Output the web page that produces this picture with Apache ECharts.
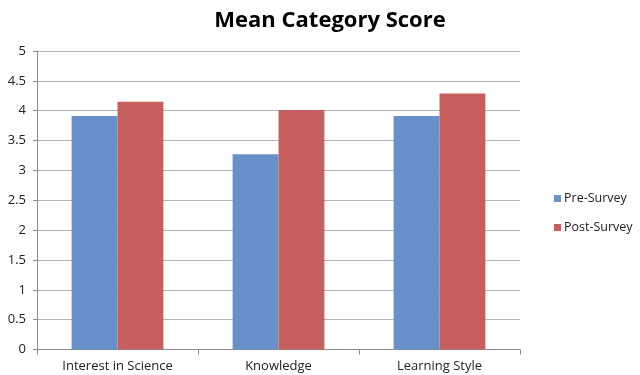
<!DOCTYPE html>
<html><head><meta charset="utf-8">
<script src="https://cdn.jsdelivr.net/npm/echarts@6/dist/echarts.min.js"></script>
<style>html,body{margin:0;padding:0;background:#fff}#c{width:640px;height:375px}</style>
</head><body><div id="c"></div>
<script>
const categories = ["Interest in Science", "Knowledge", "Learning Style"];
const preSurvey = [3.91, 3.27, 3.91];
const postSurvey = [4.15, 4.01, 4.29];
const seriesNames = ["Pre-Survey", "Post-Survey"];

const chart = echarts.init(document.getElementById('c'), null, {renderer: 'canvas'});
const font = "'Open Sans', 'DejaVu Sans', sans-serif";
chart.setOption({
  animation: false,
  backgroundColor: '#fff',
  title: {
    text: 'Mean Category Score', left: 325, top: 5, textAlign: 'center',
    textStyle: {fontFamily: font, fontWeight: 'bold', fontSize: 22, color: '#000'}
  },
  legend: {
    orient: 'vertical', left: 549, top: 187, itemGap: 16,
    itemWidth: 7, itemHeight: 7, icon: 'rect',
    textStyle: {fontFamily: font, fontSize: 12.5, color: '#222', padding: [0,0,0,-2]},
    data: seriesNames
  },
  grid: {left: 37, right: 120, top: 51, bottom: 25.5, containLabel: false},
  xAxis: {
    type: 'category', data: categories,
    axisLine: {lineStyle: {color: '#8c8c8c'}},
    axisTick: {show: true, length: 5, lineStyle: {color: '#8c8c8c'}},
    axisLabel: {fontFamily: font, fontSize: 13, color: '#222', margin: 10}
  },
  yAxis: {
    type: 'value', min: 0, max: 5, interval: 0.5,
    axisLine: {show: true, lineStyle: {color: '#8c8c8c'}},
    axisTick: {show: true, length: 4, lineStyle: {color: '#8c8c8c'}},
    axisLabel: {fontFamily: font, fontSize: 13, color: '#222', margin: 11},
    splitLine: {lineStyle: {color: '#b5b5b5'}}
  },
  series: [
    {name: seriesNames[0], type: 'bar', data: preSurvey, barGap: '0%', barCategoryGap: '43%',
     itemStyle: {color: '#6991C9'}},
    {name: seriesNames[1], type: 'bar', data: postSurvey, barGap: '0%', barCategoryGap: '43%',
     itemStyle: {color: '#C6605E'}}
  ]
});
</script></body></html>
